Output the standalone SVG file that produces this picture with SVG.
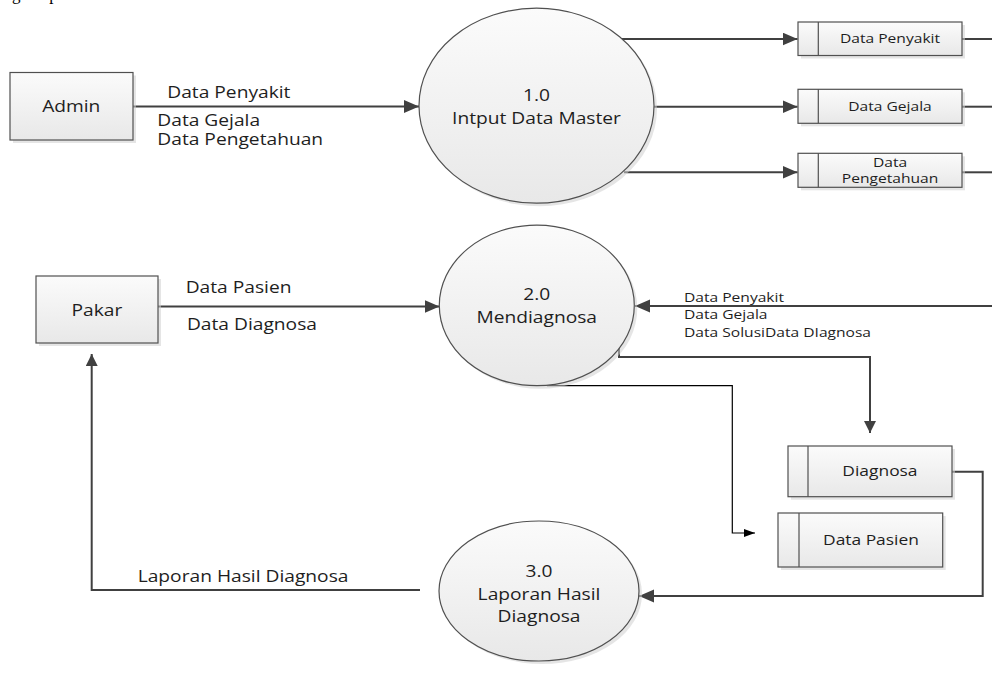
<svg xmlns="http://www.w3.org/2000/svg" width="992" height="673" viewBox="0 0 992 673">
<defs>
  <linearGradient id="gf" x1="0" y1="0" x2="0" y2="1">
    <stop offset="0" stop-color="#fbfbfb"/>
    <stop offset="1" stop-color="#e8e8e8"/>
  </linearGradient>
  <marker id="ah" markerUnits="userSpaceOnUse" markerWidth="16" markerHeight="14" refX="15" refY="6.5" orient="auto">
    <path d="M0,0 L15,6.5 L0,13 Z" fill="#404040"/>
  </marker>
  <marker id="av" markerUnits="userSpaceOnUse" markerWidth="13" markerHeight="13" refX="12" refY="6" orient="auto">
    <path d="M0,0 L12,6 L0,12 Z" fill="#404040"/>
  </marker>
  <marker id="at" markerUnits="userSpaceOnUse" markerWidth="12" markerHeight="9" refX="11" refY="4" orient="auto">
    <path d="M0,0 L11,4 L0,8 Z" fill="#000"/>
  </marker>
</defs>
<style>
  .box{fill:url(#gf);stroke:#505050;stroke-width:1.2}
  .sh{fill:#cfcfcf;opacity:.55}
  .t{font-family:"Open Sans","Noto Sans",sans-serif;fill:#1e1e1e}
  .t16{font-size:16px}
  .t14{font-size:14.5px}
  .t13{font-size:13px}
  .c{text-anchor:middle}
  .ln{fill:none;stroke:#404040;stroke-width:2}
  .thin{fill:none;stroke:#000;stroke-width:1.2}
  .doc{font-family:"Liberation Serif",serif;font-size:17px;fill:#000}
</style>

<text class="doc" x="-4" y="0">angkan pada Gambar 3.</text>

<g id="connectors">
  <path class="ln" d="M133,106.5 H419" marker-end="url(#ah)"/>
  <path class="ln" d="M618,39 H797.5" marker-end="url(#ah)"/>
  <path class="ln" d="M654,106.7 H797.5" marker-end="url(#ah)"/>
  <path class="ln" d="M624,172.3 H797.5" marker-end="url(#ah)"/>
  <path class="ln" d="M962,39 H992"/>
  <path class="ln" d="M962,106.7 H992"/>
  <path class="ln" d="M962,172.3 H992"/>
  <path class="ln" d="M158,306.5 H439.5" marker-end="url(#ah)"/>
  <path class="ln" d="M992,306 H635" marker-end="url(#ah)"/>
  <path class="ln" d="M619,348 V357 H870 V433" marker-end="url(#av)"/>
  <path class="thin" d="M547,385.7 H732.3 V533 H755" marker-end="url(#at)"/>
  <path class="ln" d="M952,471.7 H982.7 V596 H639" marker-end="url(#ah)"/>
  <path class="ln" d="M420,590 H91.7 V354" marker-end="url(#av)"/>
  <g transform="scale(1.2 1)">
    <text class="t t16" x="139.4" y="98.3">Data Penyakit</text>
    <text class="t t16" x="131.1" y="126">Data Gejala</text>
    <text class="t t16" x="131.1" y="145">Data Pengetahuan</text>
    <text class="t t16" x="154.75" y="293">Data Pasien</text>
    <text class="t t16" x="155.8" y="330">Data Diagnosa</text>
    <text class="t t13" x="570" y="301.7">Data Penyakit</text>
    <text class="t t13" x="570" y="319.3">Data Gejala</text>
    <text class="t t13" x="570" y="336.7">Data SolusiData DIagnosa</text>
    <text class="t t16" x="114.75" y="581.7">Laporan Hasil Diagnosa</text>
  </g>
</g>

<g id="admin">
  <rect class="sh" x="13" y="75.5" width="123" height="67.5"/>
  <rect class="box" x="10" y="72.5" width="123" height="67.5"/>
  <g transform="scale(1.2 1)"><text class="t t16 c" x="59.4" y="112.5">Admin</text></g>
</g>

<g id="pakar">
  <rect class="sh" x="39" y="279" width="122" height="67"/>
  <rect class="box" x="36" y="276" width="122" height="67"/>
  <g transform="scale(1.2 1)"><text class="t t16 c" x="80.8" y="316.5">Pakar</text></g>
</g>

<g id="p1">
  <ellipse class="sh" cx="539.5" cy="108.7" rx="117.5" ry="97.5"/>
  <ellipse class="box" cx="536.5" cy="105.7" rx="117.5" ry="97.5"/>
  <g transform="scale(1.2 1)">
    <text class="t t16 c" x="447.1" y="100.7">1.0</text>
    <text class="t t16 c" x="447.1" y="124">Intput Data Master</text>
  </g>
</g>

<g id="p2">
  <ellipse class="sh" cx="539.8" cy="308.4" rx="97.5" ry="80.3"/>
  <ellipse class="box" cx="536.8" cy="305.4" rx="97.5" ry="80.3"/>
  <g transform="scale(1.2 1)">
    <text class="t t16 c" x="447.3" y="300">2.0</text>
    <text class="t t16 c" x="447.3" y="322.7">Mendiagnosa</text>
  </g>
</g>

<g id="p3">
  <ellipse class="sh" cx="542" cy="594" rx="100" ry="70"/>
  <ellipse class="box" cx="539" cy="591" rx="100" ry="70"/>
  <g transform="scale(1.2 1)">
    <text class="t t16 c" x="449.2" y="577">3.0</text>
    <text class="t t16 c" x="449.2" y="600">Laporan Hasil</text>
    <text class="t t16 c" x="449.2" y="622">Diagnosa</text>
  </g>
</g>

<g id="ds-penyakit">
  <rect class="sh" x="801" y="25" width="164" height="33.5"/>
  <rect class="box" x="798" y="22" width="164" height="33.5"/>
  <line x1="818.3" y1="22" x2="818.3" y2="55.5" stroke="#505050" stroke-width="1.2"/>
  <g transform="scale(1.2 1)"><text class="t t13 c" x="741.7" y="43.3">Data Penyakit</text></g>
</g>

<g id="ds-gejala">
  <rect class="sh" x="801" y="92.3" width="164" height="34"/>
  <rect class="box" x="798" y="89.3" width="164" height="34"/>
  <line x1="818.3" y1="89.3" x2="818.3" y2="123.3" stroke="#505050" stroke-width="1.2"/>
  <g transform="scale(1.2 1)"><text class="t t13 c" x="741.7" y="111">Data Gejala</text></g>
</g>

<g id="ds-pengetahuan">
  <rect class="sh" x="801" y="156.3" width="164" height="34"/>
  <rect class="box" x="798" y="153.3" width="164" height="34"/>
  <line x1="818.3" y1="153.3" x2="818.3" y2="187.3" stroke="#505050" stroke-width="1.2"/>
  <g transform="scale(1.2 1)">
    <text class="t t13 c" x="741.7" y="166.7">Data</text>
    <text class="t t13 c" x="741.7" y="183">Pengetahuan</text>
  </g>
</g>

<g id="ds-diagnosa">
  <rect class="sh" x="791" y="449" width="164" height="50.7"/>
  <rect class="box" x="788" y="446" width="164" height="50.7"/>
  <line x1="808" y1="446" x2="808" y2="496.7" stroke="#505050" stroke-width="1.2"/>
  <g transform="scale(1.2 1)"><text class="t t14 c" x="733.3" y="476">Diagnosa</text></g>
</g>

<g id="ds-pasien">
  <rect class="sh" x="781" y="516" width="164.7" height="54"/>
  <rect class="box" x="778" y="513" width="164.7" height="54"/>
  <line x1="799" y1="513" x2="799" y2="567" stroke="#505050" stroke-width="1.2"/>
  <g transform="scale(1.2 1)"><text class="t t14 c" x="725.8" y="545">Data Pasien</text></g>
</g>
</svg>
